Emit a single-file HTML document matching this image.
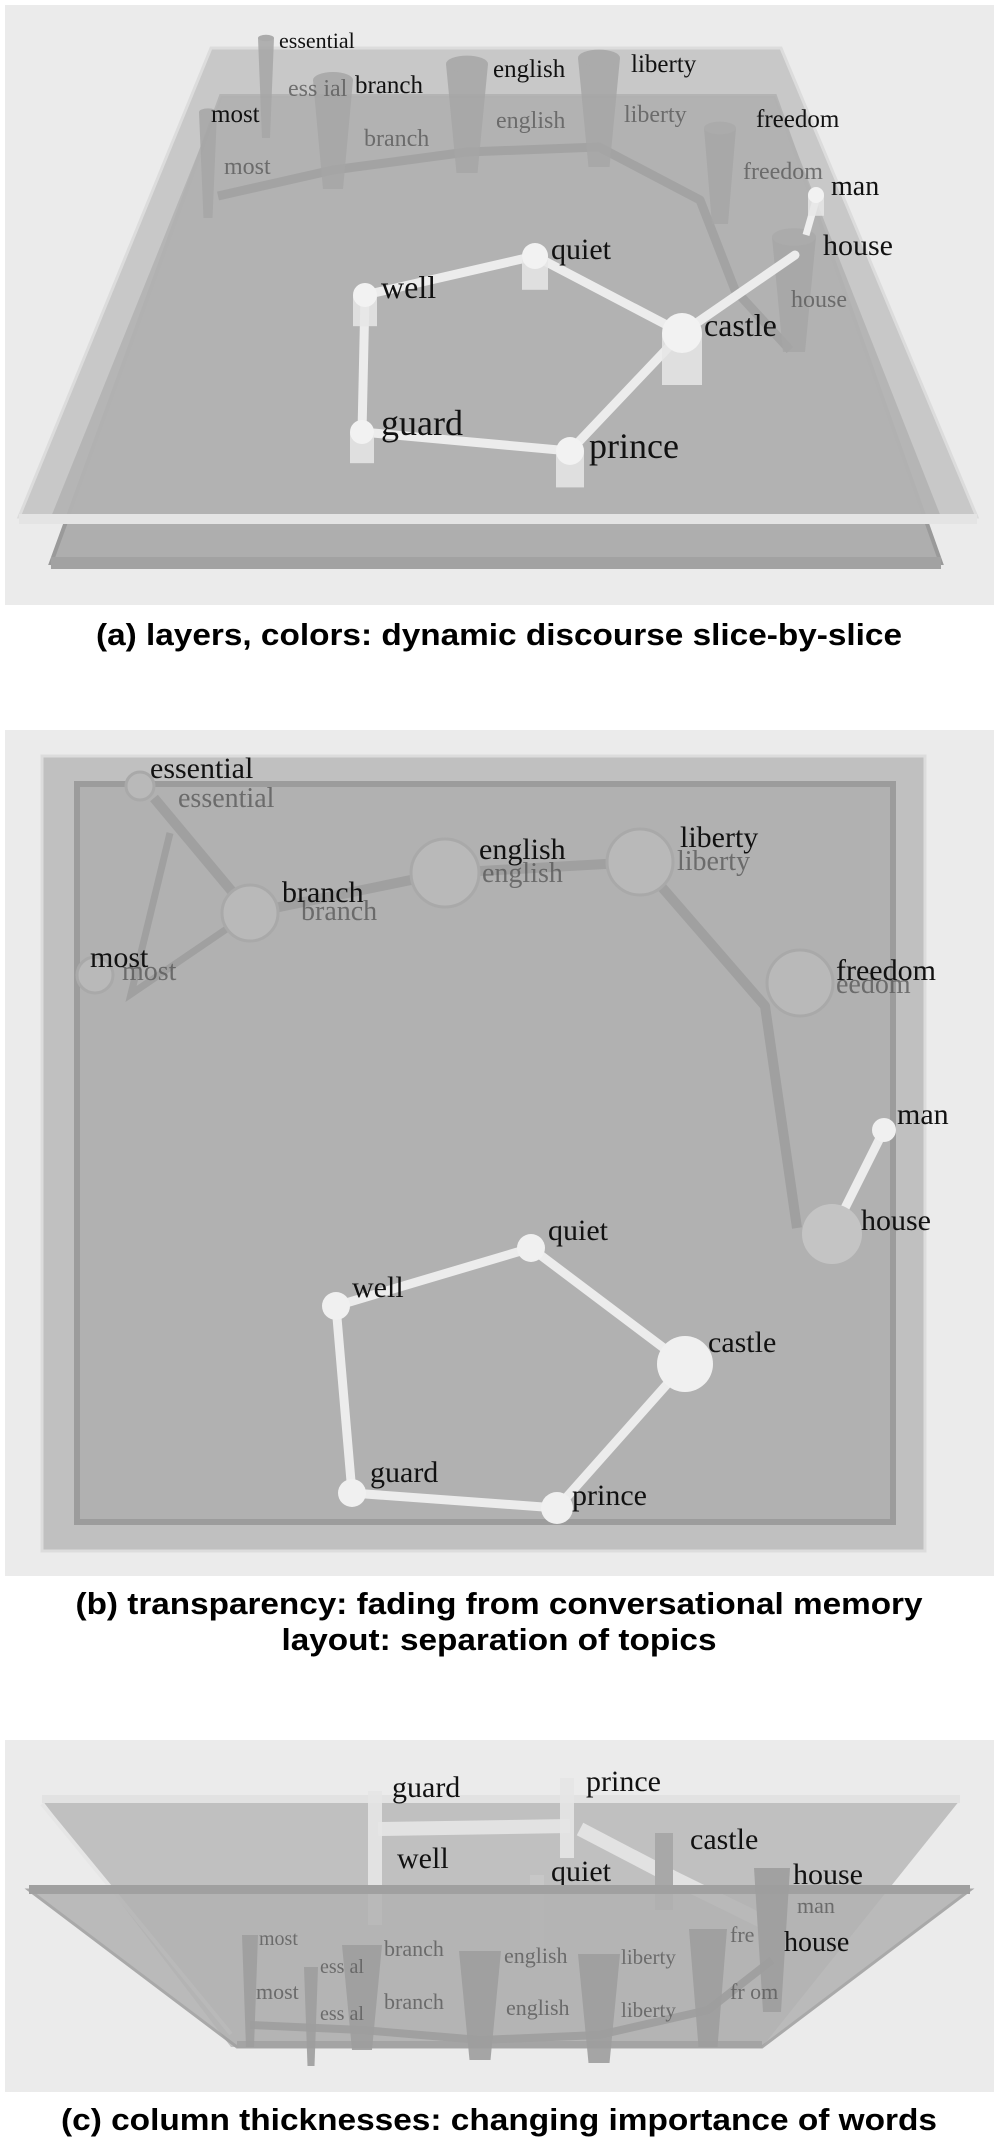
<!DOCTYPE html>
<html><head><meta charset="utf-8">
<style>
html,body{margin:0;padding:0;background:#fff;}
svg{display:block}
.cap{font-family:"Liberation Sans",sans-serif;font-weight:bold;font-size:31px;fill:#000;text-anchor:middle}
.w{font-family:"Liberation Serif",serif;fill:#111}
.f{font-family:"Liberation Serif",serif;fill:#5a5a5a;opacity:.8}
</style></head>
<body>
<svg width="999" height="2140" viewBox="0 0 999 2140" xmlns="http://www.w3.org/2000/svg">
<rect width="999" height="2140" fill="#ffffff"/>

<!-- ===== Panel (a) ===== -->
<g>
<rect x="5" y="5" width="989" height="600" fill="#ebebeb"/>
<polygon points="221,96 775,96 941,563 51,563" fill="#aeaeae" stroke="#9a9a9a" stroke-width="4"/>
<rect x="51" y="557" width="890" height="12" fill="#a2a2a2"/>
<polygon points="211,48 781,48 977,517 19,517" fill="#bdbdbd" opacity="0.75" stroke="#d8d8d8" stroke-width="3"/>
<polygon points="221,96 775,96 941,517 51,517" fill="#b0b0b0" opacity="0.8"/>
<rect x="19" y="514" width="958" height="10" fill="#e4e4e4"/>
<g id="a-marks"></g>
<text class="cap" x="499" y="645" textLength="806" lengthAdjust="spacingAndGlyphs">(a) layers, colors: dynamic discourse slice-by-slice</text>
</g>

<!-- ===== Panel (b) ===== -->
<g>
<rect x="5" y="730" width="989" height="846" fill="#ebebeb"/>
<rect x="42" y="756" width="883" height="795" fill="#c0c0c0" stroke="#dcdcdc" stroke-width="3"/>
<rect x="77" y="784" width="816" height="738" fill="#b1b1b1" stroke="#9c9c9c" stroke-width="6"/>
<g id="b-marks"></g>
<text class="cap" x="499" y="1614" textLength="847" lengthAdjust="spacingAndGlyphs">(b) transparency: fading from conversational memory</text>
<text class="cap" x="499" y="1650" textLength="435" lengthAdjust="spacingAndGlyphs">layout: separation of topics</text>
</g>

<!-- ===== Panel (c) ===== -->
<g>
<rect x="5" y="1740" width="989" height="352" fill="#ebebeb"/>
<polygon points="42,1800 960,1800 762,2047 231,2047" fill="#b9b9b9" opacity="0.85"/>
<line x1="42" y1="1804" x2="231" y2="2034" stroke="#e6e6e6" stroke-width="4"/>
<rect x="42" y="1795" width="918" height="8" fill="#e2e2e2"/>
<g id="c-top"></g>
<polygon points="29,1890 970,1890 762,2047 237,2047" fill="#b2b2b2" opacity="0.85" stroke="#9e9e9e" stroke-width="3"/>
<rect x="29" y="1885" width="941" height="9" fill="#a0a0a0"/>
<rect x="237" y="2041" width="525" height="7" fill="#a4a4a4"/>
<g id="c-marks"></g>
<text class="cap" x="499" y="2130" textLength="876" lengthAdjust="spacingAndGlyphs">(c) column thicknesses: changing importance of words</text>
</g>
</svg>

<script>
// ---- panel a data ----
const aWords = ["essential","branch","english","liberty","most","freedom","man","house","quiet","well","castle","guard","prince"];
const aWordX = [279,355,493,631,211,756,831,823,551,381,704,381,589];
const aWordY = [48,93,77,72,122,127,195,255,259,298,336,435,458];
const aWordSize = [22,25,25,25,25,25,28,30,30,32,32,36,36];
const aFaint = ["ess  ial","branch","english","liberty","most","freedom","house"];
const aFaintX = [288,364,496,624,224,743,791];
const aFaintY = [96,146,128,122,174,179,307];
const aColNames = ["most","essential","branch","english","liberty","freedom","house"];
const aColX = [208,266,333,467,599,720,794];
const aColTop = [112,38,80,64,58,128,237];
const aColBot = [218,138,189,173,167,224,352];
const aColW = [18,16,40,42,42,32,44];
const aGrayPathX = [218,333,467,599,700,735,790];
const aGrayPathY = [196,170,152,147,200,290,350];
const aNodes = ["well","quiet","castle","prince","guard","man","house"];
const aNodeX = [365,535,682,570,362,816,795];
const aNodeY = [295,256,333,451,432,195,255];
const aNodeR = [12,13,20,14,12,8,0];
const aEdgeFrom = [0,1,2,3,4,2];
const aEdgeTo = [1,2,3,4,0,6];

// ---- panel b data ----
const bWords = ["essential","most","branch","english","liberty","freedom","man","house","quiet","well","castle","guard","prince"];
const bWordX = [150,90,282,479,680,836,897,861,548,352,708,370,572];
const bWordY = [778,967,902,859,847,980,1124,1230,1240,1297,1352,1482,1505];
const bFaint = ["essential","most","branch","english","liberty","eedom"];
const bFaintX = [178,122,301,482,677,836];
const bFaintY = [807,980,920,882,870,993];
const bGrayNodes = ["essential","most","branch","english","liberty","freedom"];
const bGrayX = [140,95,250,445,640,800];
const bGrayY = [786,975,913,873,862,983];
const bGrayR = [14,18,28,34,33,33];
const bGrayPathX = [154,250,445,640,765,797];
const bGrayPathY = [798,913,873,862,1006,1228];
const bNodes = ["quiet","well","castle","guard","prince","house","man"];
const bNodeX = [531,336,685,352,557,832,884];
const bNodeY = [1248,1306,1364,1493,1508,1234,1130];
const bNodeR = [14,14,28,14,16,30,12];
const bEdgeFrom = [0,1,3,4,2,5];
const bEdgeTo = [1,3,4,2,0,6];

// ---- panel c data ----
const cTopWords = ["guard","prince","castle","well","quiet","house"];
const cTopX = [392,586,690,397,551,793];
const cTopY = [1797,1791,1849,1868,1881,1884];
const cLowWords = ["most","branch","english","liberty","fre","man","house","most","branch","english","liberty","fr    om","ess   al","ess   al"];
const cLowX = [259,384,504,621,730,797,784,256,384,506,621,730,320,320];
const cLowY = [1945,1956,1963,1964,1942,1913,1951,1999,2009,2015,2017,1999,1973,2020];
const cLowSize = [20,22,22,21,22,22,28,22,22,22,21,22,20,20];
const cColX = [250,311,362,480,599,708,772];
const cColTop = [1935,1967,1945,1951,1954,1929,1868];
const cColBot = [2047,2066,2050,2060,2063,2047,2012];
const cColW = [16,14,40,42,42,38,36];

const NS="http://www.w3.org/2000/svg";
function mk(parent,tag,attrs){const e=document.createElementNS(NS,tag);for(const k in attrs)e.setAttribute(k,attrs[k]);parent.appendChild(e);return e;}

// panel a
const ga=document.getElementById('a-marks');
let pts=aGrayPathX.map((x,i)=>x+','+aGrayPathY[i]).join(' ');
let p=mk(ga,'polyline',{points:pts,fill:'none',stroke:'#a3a3a3','stroke-width':9,'stroke-linejoin':'round'});


aColX.forEach((x,i)=>{
  const w=aColW[i];
  const c=mk(ga,'path',{d:`M${x-w/2},${aColTop[i]} L${x+w/2},${aColTop[i]} L${x+w/4},${aColBot[i]} L${x-w/4},${aColBot[i]} Z`,fill:'#a6a6a6',opacity:0.85});
  
  
  mk(ga,'ellipse',{cx:x,cy:aColTop[i],rx:w/2,ry:w/5,fill:'#ababab'});
});
aFaint.forEach((t,i)=>{
  const e=mk(ga,'text',{x:aFaintX[i],y:aFaintY[i],'font-size':24,class:'f'});e.textContent=t;
  
  
});
aEdgeFrom.forEach((f,i)=>{
  const t=aEdgeTo[i];
  const l=mk(ga,'line',{x1:aNodeX[f],y1:aNodeY[f],x2:aNodeX[t],y2:aNodeY[t],stroke:'#ececec','stroke-width':9,'stroke-linecap':'round'});
  
  
});
mk(ga,'line',{x1:816,y1:200,x2:806,y2:235,stroke:'#eeeeee','stroke-width':7});
aNodes.forEach((n,i)=>{
  if(!aNodeR[i])return;
  const r=aNodeR[i];
  mk(ga,'rect',{x:aNodeX[i]-r,y:aNodeY[i],width:2*r,height:r*2.6,fill:'#e6e6e6',opacity:0.85});
  const c=mk(ga,'circle',{cx:aNodeX[i],cy:aNodeY[i],r:r,fill:'#f2f2f2'});
  
  
});
aWords.forEach((t,i)=>{
  const e=mk(ga,'text',{x:aWordX[i],y:aWordY[i],'font-size':aWordSize[i],class:'w'});e.textContent=t;
  
  
});

// panel b
const gb=document.getElementById('b-marks');
pts=bGrayPathX.map((x,i)=>x+','+bGrayPathY[i]).join(' ');
p=mk(gb,'polyline',{points:pts,fill:'none',stroke:'#a0a0a0','stroke-width':10,'stroke-linejoin':'round'});


mk(gb,'polyline',{points:'170,833 131,994 250,913',fill:'none',stroke:'#a0a0a0','stroke-width':7});
bGrayNodes.forEach((n,i)=>{
  const c=mk(gb,'circle',{cx:bGrayX[i],cy:bGrayY[i],r:bGrayR[i],fill:'#b9b9b9',stroke:'#a9a9a9','stroke-width':3});
  
  
});
bFaint.forEach((t,i)=>{
  const e=mk(gb,'text',{x:bFaintX[i],y:bFaintY[i],'font-size':28,class:'f'});e.textContent=t;
  
  
});
bEdgeFrom.forEach((f,i)=>{
  const t=bEdgeTo[i];
  const l=mk(gb,'line',{x1:bNodeX[f],y1:bNodeY[f],x2:bNodeX[t],y2:bNodeY[t],stroke:'#ececec','stroke-width':9,'stroke-linecap':'round'});
  
  
});
bNodes.forEach((n,i)=>{
  const c=mk(gb,'circle',{cx:bNodeX[i],cy:bNodeY[i],r:bNodeR[i],fill:(n==='house'?'#c4c4c4':'#f0f0f0')});
  
  
});
bWords.forEach((t,i)=>{
  const e=mk(gb,'text',{x:bWordX[i],y:bWordY[i],'font-size':30,class:'w'});e.textContent=t;
  
  
});

// panel c top (upper layer white structure)
const gt=document.getElementById('c-top');
[[375,1791,375,1925],[567,1778,567,1858],[378,1829,570,1826],[580,1829,672,1877],[672,1877,770,1925]].forEach((s,i)=>{
  const l=mk(gt,'line',{x1:s[0],y1:s[1],x2:s[2],y2:s[3],stroke:'#e6e6e6','stroke-width':14,opacity:0.9});
  
  
});
mk(gt,'rect',{x:655,y:1833,width:18,height:77,fill:'#a8a8a8'});
mk(gt,'rect',{x:530,y:1875,width:14,height:90,fill:'#c8c8c8',opacity:0.8});
cTopWords.forEach((t,i)=>{
  const e=mk(gt,'text',{x:cTopX[i],y:cTopY[i],'font-size':30,class:'w',fill:'#222'});e.textContent=t;
  
  
});

// panel c lower
const gc=document.getElementById('c-marks');
mk(gc,'polyline',{points:'250,2025 362,2030 480,2040 599,2035 708,2010 772,1960',fill:'none',stroke:'#a0a0a0','stroke-width':8});
cColX.forEach((x,i)=>{
  const w=cColW[i];
  const c=mk(gc,'path',{d:`M${x-w/2},${cColTop[i]} L${x+w/2},${cColTop[i]} L${x+w/4},${cColBot[i]} L${x-w/4},${cColBot[i]} Z`,fill:'#9d9d9d',opacity:0.9});
  
  
});
cLowWords.forEach((t,i)=>{
  const e=mk(gc,'text',{x:cLowX[i],y:cLowY[i],'font-size':cLowSize[i],class:(i===6?'w':'f')});e.textContent=t;
  
  
});
</script>
</body></html>
